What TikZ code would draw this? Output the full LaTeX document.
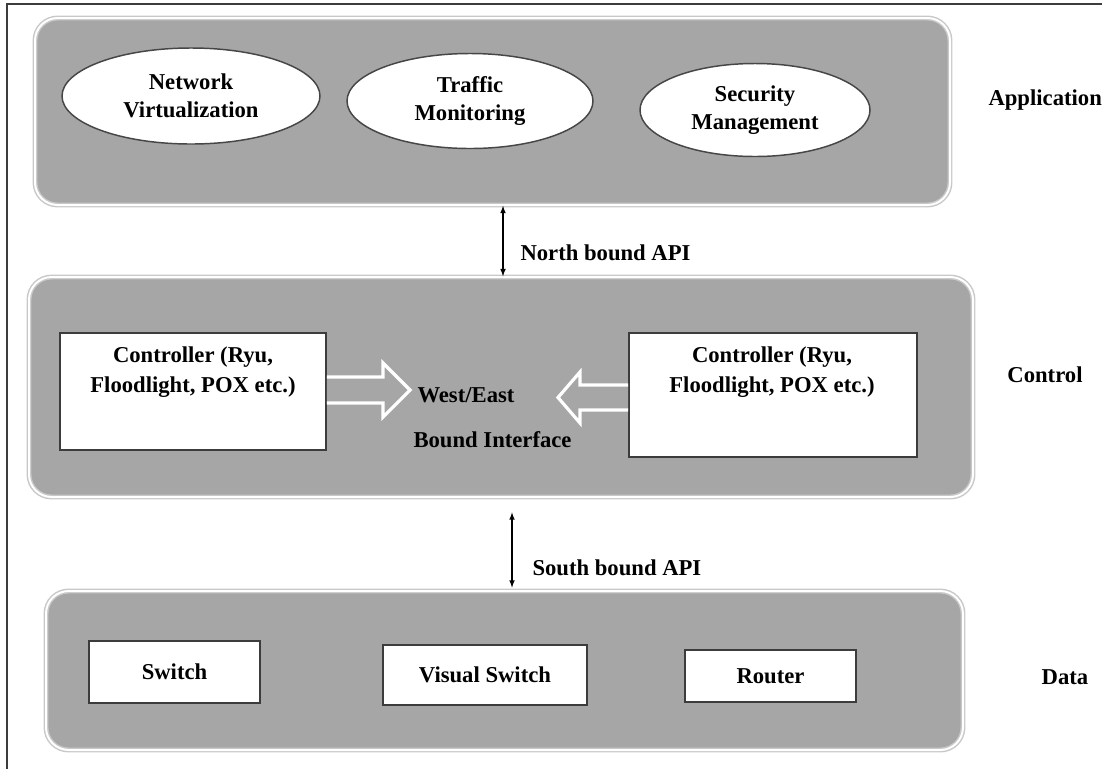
\documentclass[tikz,border=0pt]{standalone}
\usepackage{fontspec}
\setmainfont{Liberation Serif}
\usetikzlibrary{shapes.geometric}

\tikzset{every picture/.style={line width=0.75pt}}
\tikzset{
  panel/.style={draw={rgb, 255:red, 200; green, 200; blue, 200 }, double=white, double distance=1.5pt, line width=1.1pt, fill={rgb, 255:red, 166; green, 166; blue, 166 }, rounded corners=17pt, inner sep=0pt},
  ellnode/.style={ellipse, draw={rgb, 255:red, 70; green, 70; blue, 70 }, fill=white, line width=1.1pt, inner sep=0pt, align=center, font=\bfseries\fontsize{17}{21}\selectfont},
  boxnode/.style={rectangle, draw={rgb, 255:red, 60; green, 60; blue, 60 }, fill=white, line width=1.4pt, inner sep=0pt, align=center, font=\bfseries\fontsize{17}{21}\selectfont},
  txt/.style={inner sep=0pt, align=center, font=\bfseries\fontsize{17}{23}\selectfont},
  blockarr/.style={draw=white, line width=2.4pt, fill={rgb, 255:red, 166; green, 166; blue, 166 }, line join=miter},
  apiarr/.style={<->, >=latex, line width=0.9pt, black}
}

\begin{document}
\begin{tikzpicture}[x=0.75pt,y=0.75pt,yscale=-1,xscale=1]
\useasboundingbox (0,0) rectangle (1102,769);

%Frame
\draw [line width=1.5pt, draw={rgb, 255:red, 60; green, 60; blue, 60 }] (1102,4) -- (7,4) -- (7,769) ;

%Rounded Rect: layers
\node [panel, minimum width=686.25pt, minimum height=140.25pt] (app) at (492.5,111.5) {};
\node [panel, minimum width=708pt, minimum height=165pt] (ctrl) at (501,387) {};
\node [panel, minimum width=687.75pt, minimum height=119.25pt] (data) at (504.5,670.5) {};

%Shape: Ellipse
\node [ellnode, minimum width=193.5pt, minimum height=72pt] (netvirt) at (191,96) {Network\\Virtualization};
%Shape: Ellipse
\node [ellnode, minimum width=184.5pt, minimum height=71.25pt] (trafmon) at (470,101) {Traffic\\Monitoring};
%Shape: Ellipse
\node [ellnode, minimum width=172.5pt, minimum height=69.75pt] (secman) at (755,110) {Security\\Management};

%Shape: Rectangle
\node [boxnode, minimum width=199.5pt, minimum height=87.75pt] (ctrlL) at (193,391.5) {};
\node [txt] (ctrlLtxt) at (193,372) {Controller (Ryu,\\Floodlight, POX etc.)};
%Shape: Rectangle
\node [boxnode, minimum width=216pt, minimum height=93pt] (ctrlR) at (773,395) {};
\node [txt] (ctrlRtxt) at (772,372) {Controller (Ryu,\\Floodlight, POX etc.)};

%Shape: Block arrows
\path [blockarr] (ctrlL.east |- 0,377) -- (383,377) -- (383,363) -- (410,390) -- (383,417) -- (383,403) -- (ctrlL.east |- 0,403) ;
\path [blockarr] (ctrlR.west |- 0,385) -- (580,385) -- (580,372) -- (558,397.5) -- (580,423) -- (580,410) -- (ctrlR.west |- 0,410) ;

\node [txt, anchor=west] (westeast) at (417,395) {West/East};
\node [txt, anchor=west] (boundif) at (413,440) {Bound Interface};

%Shape: Rectangle
\node [boxnode, minimum width=128.25pt, minimum height=46.5pt] (switch) at (174.5,672) {Switch};
\node [boxnode, minimum width=153pt, minimum height=45pt] (vswitch) at (485,675) {Visual Switch};
\node [boxnode, minimum width=128.25pt, minimum height=39pt] (router) at (770.5,676) {Router};

%Straight Lines: APIs
\coordinate (nb) at (503,240) ;
\coordinate (sb) at (512,550) ;
\draw [apiarr] (app.south -| nb) -- (ctrl.north -| nb) ;
\draw [apiarr, shorten <=11pt, shorten >=2pt] (ctrl.south -| sb) -- (data.north -| sb) ;
\node [txt, anchor=west] (nbapi) at (520,253) {North bound API};
\node [txt, anchor=west] (sbapi) at (532,568) {South bound API};

%Layer labels
\node [txt, anchor=west] (applbl) at (988,100) {Application};
\node [txt] (ctrllbl) at (1045,375) {Control};
\node [txt] (datalbl) at (1065,677) {Data};

\end{tikzpicture}
\end{document}
